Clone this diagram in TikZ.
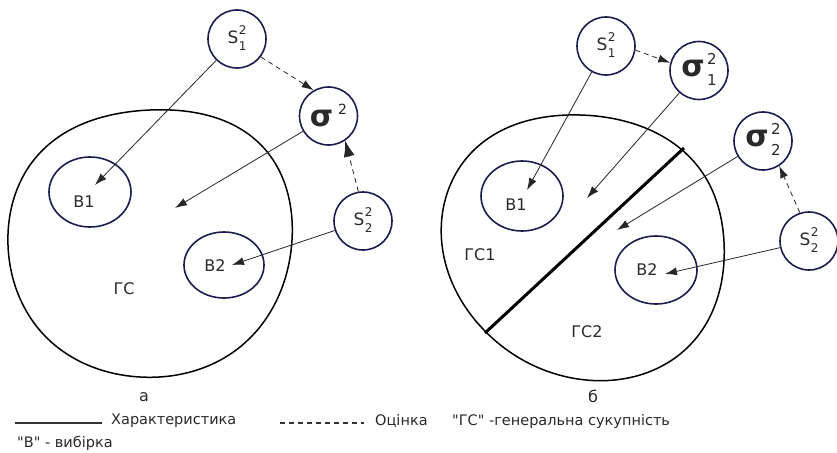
\documentclass[tikz,border=0pt]{standalone}
\usepackage{fontspec}
\setmainfont{DejaVu Sans}
\newfontfamily\qf{DejaVu Sans}
\usetikzlibrary{arrows.meta,shapes.geometric,hobby}
\definecolor{navy}{HTML}{1C1C4E}
\definecolor{txt}{HTML}{2A2A2A}
\newcommand{\fs}[1]{\fontsize{#1}{#1}\selectfont}
\newcommand{\scrs}[4]{\raisebox{#1}{\fs{#2}\def\arraystretch{#3}\begin{tabular}[b]{@{}l@{}}2\\#4\end{tabular}}}
\newcommand{\sqS}[1]{{\fs{17}S}\hspace{0.5pt}\scrs{-7pt}{12}{1.33}{#1}}
\newcommand{\sigS}[1]{{\fs{30}\bfseries σ}\hspace{2.5pt}\scrs{-9pt}{15}{1.42}{#1}}
\newcommand{\dq}{{\qf"}}
\tikzset{
  circ/.style={circle, draw=navy, line width=1.6pt, minimum size=58pt, inner sep=0pt, text=txt},
  ell/.style={ellipse, draw=navy, line width=1.6pt, minimum width=#1, inner sep=0pt},
  lbl/.style={text=txt, font=\fs{16}, inner sep=0pt},
  leg/.style={text=txt, font=\fs{14.5}, inner sep=0pt, anchor=west},
  blob/.style={draw=black, line width=1.5pt},
  conn/.style={draw=black!85, line width=0.8pt, -{Latex[length=12pt,width=8pt]}},
  est/.style={conn, dash pattern=on 5pt off 4pt},
}
\begin{document}
\begin{tikzpicture}[x=1pt,y=-1pt]
\useasboundingbox[fill=white] (0,0) rectangle (837,452);
% ---------- left panel ----------
\draw[blob, use Hobby shortcut, closed=true]
 (292,240) .. (262,146) .. (150,110) .. (38,155) .. (8,245) .. (45,336) .. (140,377) .. (240,347);
\node[ell=82pt, minimum height=70pt] (B1) at (90,192) {};
\node[ell=80pt, minimum height=66pt] (B2) at (224,265) {};
\node[lbl] (tB1) at (84,202) {В1};
\node[lbl] (tB2) at (215,266) {В2};
\node[lbl] (tGS) at (124,289) {ГС};
\node[circ] (S1) at (237,39) {\sqS{1}};
\node[circ] (sig) at (328.5,116) {{\fs{30}\bfseries σ}\hspace{5pt}\raisebox{12pt}{\fs{14}2}};
\node[circ] (S2) at (363,221) {\sqS{2}};
\coordinate (a1) at (95,185);
\coordinate (a2) at (175,208);
\coordinate (a3) at (232,265);
\draw[conn] (S1) -- (a1);
\draw[conn] (sig) -- (a2);
\draw[conn] (S2) -- (a3);
\draw[est] (S1.-37) -- (sig.120);
\draw[est, -{Latex[length=16pt,width=11pt]}] (S2.99) -- (sig.-56);
\node[text=txt, font=\fs{16}, inner sep=0pt] (la) at (144,397) {а};
% ---------- right panel ----------
\draw[blob, use Hobby shortcut, closed=true]
 (724,242) .. (702,172) .. (580,115) .. (472,152) .. (442,245) .. (482,328) .. (572,378) .. (690,345);
\coordinate (d1) at (485,333);
\coordinate (d2) at (684,148);
\draw[line width=3pt] (d1) -- (d2);
\node[ell=82pt, minimum height=70pt] (RB1) at (522,196) {};
\node[ell=82pt, minimum height=68pt] (RB2) at (656,270) {};
\node[lbl] (tRB1) at (516,205) {В1};
\node[lbl] (tRB2) at (647,270) {В2};
\node[lbl] (tGS1) at (480,255) {ГС1};
\node[lbl] (tGS2) at (587,332) {ГС2};
\node[circ] (RS1) at (606,46) {\sqS{1}};
\node[circ] (sig1) at (699,70.5) {\sigS{1}};
\node[circ] (sig2) at (763,141) {\sigS{2}};
\node[circ] (RS2) at (809,241) {\sqS{2}};
\coordinate (b1) at (527,190);
\coordinate (b2) at (587,198);
\coordinate (b3) at (617,230);
\coordinate (b4) at (665,274);
\draw[conn] (RS1) -- (b1);
\draw[conn] (sig1) -- (b2);
\draw[conn] (sig2) -- (b3);
\draw[conn] (RS2) -- (b4);
\draw[est] (RS1.-8) -- (sig1.165);
\draw[est] (RS2.108) -- (sig2.-57);
\node[text=txt, font=\fs{16}, inner sep=0pt] (lb) at (593,396) {б};
% ---------- legend ----------
\coordinate (l1a) at (15,423);
\coordinate (l1b) at (102,423);
\coordinate (l2a) at (280,423);
\coordinate (l2b) at (364,423);
\draw[line width=1.3pt, draw=black!80] (l1a) -- (l1b);
\draw[line width=1.3pt, draw=black!80, dash pattern=on 5pt off 4pt] (l2a) -- (l2b);
\node[leg] (g1) at (111,421) {Характеристика};
\node[leg] (g2) at (375,421) {Оцінка};
\node[leg] (g3) at (452,421) {\dq ГС\dq{} -генеральна сукупність};
\node[leg] (g4) at (17,443) {\dq В\dq{} - вибірка};
\end{tikzpicture}
\end{document}
